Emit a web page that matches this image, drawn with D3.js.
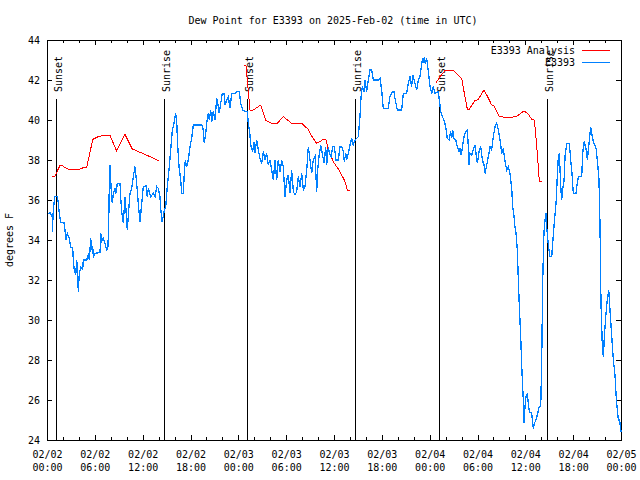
<!DOCTYPE html>
<html>
<head>
<meta charset="utf-8">
<script src="https://cdn.jsdelivr.net/npm/d3@7"></script>
<style>
  body { margin: 0; background: #fff; }
  text { font-family: "DejaVu Sans Mono", monospace; font-size: 10px; fill: #000; }
</style>
</head>
<body>
<div id="chart"></div>
<script>
/* CONSTANTS AND DATA */
const width = 640, height = 480,
  margin = { top: 40, right: 19, bottom: 40, left: 47 };

const title = "Dew Point for E3393 on 2025-Feb-02 (time in UTC)";
const yLabel = "degrees F";
const seriesNames = ["E3393 Analysis", "E3393"];
const seriesColors = ["#ff0000", "#0080ff"];
const startTime = new Date("2025-02-02T00:00:00Z");
const endTime = new Date("2025-02-05T00:00:00Z");
const yTicks = [24, 26, 28, 30, 32, 34, 36, 38, 40, 42, 44];

// sunset / sunrise, hours after 02/02 00:00 UTC
const sunHours = [1.17, 14.71, 25.13, 38.67, 49.21, 62.76];
const sunLabels = ["Sunset", "Sunrise", "Sunset", "Sunrise", "Sunset", "Sunrise"];

// analysis: [hours after start, deg F], null = gap
const analysis = [
  [0.66, 37.2], [1.00, 37.2], [1.63, 37.73], [1.84, 37.73], [2.60, 37.55], [4.14, 37.55],
  [4.77, 37.65], [4.98, 37.65], [5.39, 38.37], [5.73, 39.03], [6.44, 39.17], [7.06, 39.22],
  [7.90, 39.23], [8.74, 38.45], [9.78, 39.28], [10.70, 38.55], [11.45, 38.42], [12.29, 38.28],
  [13.13, 38.13], [13.76, 38.0], [14.05, 38.0],
  [19.0, null],
  [24.71, 42.75], [24.96, 42.7], [25.46, 40.5], [25.88, 40.5], [26.81, 40.75], [27.47, 39.97],
  [28.19, 39.83], [28.81, 39.8], [29.64, 40.17], [30.27, 39.97], [30.70, 39.83], [31.95, 39.83],
  [32.78, 39.53], [33.20, 39.2], [33.83, 38.83], [34.66, 39.03], [35.00, 39.0], [35.29, 38.5],
  [35.91, 37.92], [36.75, 37.42], [37.38, 36.92], [37.67, 36.5], [38.01, 36.5],
  [43.0, null],
  [48.76, 41.83], [49.30, 42.17], [49.92, 42.47], [50.97, 42.47], [51.72, 42.17], [52.02, 42.08],
  [52.31, 41.42], [52.72, 40.55], [52.97, 40.55], [53.69, 40.97], [54.10, 41.03], [54.81, 41.5],
  [55.16, 41.25], [55.78, 40.75], [56.07, 40.7], [56.70, 40.2], [57.45, 40.13], [58.29, 40.13],
  [58.99, 40.2], [59.83, 40.45], [60.37, 40.3], [60.80, 40.03], [61.09, 40.0], [61.21, 39.67],
  [61.43, 38.67], [61.63, 37.67], [61.75, 36.92], [62.05, 36.92]
];

// observations: [hours after start, deg F]
const observed = [
  [0.16, 35.33], [0.38, 35.37], [0.66, 35.17], [0.67, 34.42], [0.79, 35.5], [0.88, 35.83],
  [1.00, 36.17], [1.29, 36.17], [1.42, 35.83], [1.54, 35.33], [1.72, 34.87], [2.13, 34.87],
  [2.26, 34.5], [2.38, 34.0], [2.55, 34.33], [2.80, 34.08], [2.97, 33.63], [3.22, 33.63],
  [3.30, 33.0], [3.42, 32.5], [3.60, 32.25], [3.73, 33.0], [3.80, 32.5], [3.93, 31.42],
  [4.05, 32.33], [4.23, 32.63], [4.48, 32.53], [4.55, 33.0], [4.98, 33.0], [5.18, 33.25],
  [5.31, 33.0], [5.48, 34.08], [5.61, 33.5], [5.73, 33.7], [5.81, 33.17], [6.02, 33.33],
  [6.65, 33.37], [6.74, 34.33], [6.86, 33.92], [7.06, 34.08], [7.28, 33.83], [7.49, 33.47],
  [7.65, 33.7], [7.74, 34.83], [7.81, 36.67], [7.90, 37.75], [8.03, 36.67], [8.19, 35.83],
  [8.32, 36.33], [8.53, 36.58], [8.66, 36.33], [8.82, 36.83], [9.16, 36.83], [9.24, 36.17],
  [9.37, 35.42], [9.57, 34.83], [9.78, 36.17], [9.91, 35.5], [10.07, 34.5], [10.25, 35.5],
  [10.41, 36.33], [10.62, 36.58], [10.83, 37.17], [11.04, 37.67], [11.25, 36.83], [11.45, 35.83],
  [11.67, 34.92], [11.88, 35.83], [12.08, 36.67], [12.42, 36.7], [12.58, 36.17], [12.71, 36.58],
  [13.01, 36.17], [13.33, 36.33], [13.55, 36.17], [13.76, 36.67], [13.96, 36.58], [14.17, 36.17],
  [14.30, 35.42], [14.43, 34.92], [14.59, 35.17], [14.71, 35.5], [14.89, 35.67], [15.09, 36.67],
  [15.34, 37.67], [15.55, 38.67], [15.72, 39.5], [15.93, 39.83], [16.14, 40.33], [16.27, 39.92],
  [16.40, 38.67], [16.56, 37.67], [16.77, 37.0], [16.90, 36.33], [17.10, 36.33], [17.22, 37.33],
  [17.35, 38.0], [17.52, 37.67], [17.72, 38.0], [17.94, 38.67], [18.15, 39.08], [18.35, 39.75],
  [19.41, 39.75], [19.61, 39.5], [19.73, 38.83], [19.91, 39.33], [20.03, 39.83], [20.23, 40.33],
  [20.36, 40.0], [20.53, 40.5], [20.66, 39.92], [20.86, 40.42], [21.07, 40.0], [21.29, 41.08],
  [21.49, 40.67], [21.61, 40.33], [21.79, 40.83], [21.99, 41.33], [22.20, 41.33], [22.33, 40.75],
  [22.54, 41.0], [22.74, 41.17], [22.96, 40.58], [23.17, 41.33], [23.58, 41.33], [23.80, 41.42],
  [24.12, 41.42], [24.30, 40.83], [24.55, 40.5], [24.96, 40.42], [25.13, 40.42], [25.25, 39.83],
  [25.46, 39.25], [25.55, 38.75], [25.80, 38.42], [25.97, 38.92], [26.09, 38.33], [26.30, 39.0],
  [26.51, 38.5], [26.72, 38.08], [26.93, 37.83], [27.13, 38.42], [27.35, 38.0], [27.56, 38.33],
  [27.76, 37.75], [27.97, 38.0], [28.18, 37.5], [28.39, 37.0], [28.60, 38.0], [28.81, 37.0],
  [29.01, 38.0], [29.23, 37.42], [29.44, 38.0], [29.64, 37.67], [29.85, 36.17], [30.07, 37.0],
  [30.27, 37.25], [30.48, 36.33], [30.69, 37.5], [30.90, 36.42], [31.11, 36.25], [31.32, 36.42],
  [31.52, 37.17], [31.74, 36.67], [31.95, 37.33], [32.15, 36.5], [32.36, 36.67], [32.58, 37.5],
  [32.78, 38.67], [32.99, 38.0], [33.20, 37.33], [33.40, 38.0], [33.62, 38.17], [33.83, 36.42],
  [33.95, 37.5], [34.12, 38.17], [34.33, 38.75], [34.53, 38.33], [34.75, 37.83], [34.96, 38.67],
  [35.08, 37.75], [35.29, 38.67], [35.42, 38.33], [35.63, 38.17], [35.84, 38.67], [36.04, 38.67],
  [36.25, 38.0], [36.54, 38.0], [36.75, 38.67], [36.97, 38.67], [37.17, 38.42], [37.29, 37.92],
  [37.47, 38.33], [37.59, 38.0], [37.79, 38.33], [38.01, 38.75], [38.22, 39.08], [38.42, 38.75],
  [38.64, 39.0], [38.85, 39.08], [39.05, 39.17], [39.26, 40.17], [39.39, 41.17], [39.55, 41.67],
  [39.76, 41.42], [39.89, 42.0], [40.10, 41.42], [40.30, 42.0], [40.52, 42.5], [40.73, 42.5],
  [40.93, 42.0], [41.56, 42.0], [41.77, 42.08], [41.98, 41.5], [42.18, 40.58], [42.81, 40.58],
  [43.02, 41.17], [43.31, 41.42], [43.52, 41.42], [43.65, 41.08], [43.78, 40.83], [43.94, 40.5],
  [44.49, 40.5], [44.62, 41.0], [44.69, 41.33], [45.12, 41.33], [45.32, 41.83], [45.53, 42.17],
  [45.74, 41.67], [45.87, 42.25], [46.16, 41.83], [46.37, 41.5], [46.57, 42.0], [46.79, 42.17],
  [47.00, 42.83], [47.13, 43.08], [47.20, 42.83], [47.33, 43.17], [47.45, 42.83], [47.63, 43.08],
  [47.83, 42.42], [48.04, 41.67], [48.25, 41.33], [48.46, 41.67], [48.67, 41.33], [49.09, 41.42],
  [49.21, 41.0], [49.39, 40.42], [49.59, 40.17], [49.80, 40.0], [50.05, 39.58], [50.21, 39.08],
  [50.43, 39.0], [50.64, 39.42], [50.76, 39.08], [50.89, 39.5], [51.05, 39.08], [51.27, 39.0],
  [51.47, 38.67], [51.68, 38.42], [51.81, 38.58], [51.93, 38.25], [52.09, 38.58], [52.31, 39.17],
  [52.52, 39.42], [52.72, 39.5], [52.85, 38.67], [52.93, 37.75], [53.06, 38.33], [53.27, 38.25],
  [53.47, 38.5], [53.69, 38.75], [53.81, 38.33], [53.98, 37.83], [54.23, 38.5], [54.40, 38.67],
  [54.61, 38.0], [54.82, 37.75], [54.94, 37.33], [55.16, 37.75], [55.36, 38.17], [55.57, 38.67],
  [55.78, 38.5], [55.98, 39.17], [56.20, 39.67], [56.41, 39.83], [56.61, 39.5], [56.83, 39.0],
  [57.04, 38.33], [57.24, 38.58], [57.45, 37.92], [57.66, 37.5], [57.87, 37.67], [58.08, 37.33],
  [58.29, 36.58], [58.41, 35.67], [58.58, 35.17], [58.70, 34.67], [58.83, 34.33], [59.00, 33.5],
  [59.12, 32.0], [59.25, 30.67], [59.42, 29.17], [59.55, 27.67], [59.67, 26.58], [59.75, 26.0],
  [59.83, 24.83], [59.96, 25.67], [60.08, 26.17], [60.25, 26.33], [60.37, 25.83], [60.50, 25.42],
  [60.80, 25.33], [61.00, 24.58], [61.13, 24.83], [61.34, 25.0], [61.50, 25.25], [61.75, 25.67],
  [61.93, 25.67], [62.05, 27.83], [62.18, 32.0], [62.34, 34.42], [62.47, 35.0], [62.59, 35.33],
  [62.68, 34.67], [62.80, 34.08], [62.97, 33.5], [63.09, 33.17], [63.31, 33.17], [63.43, 33.83],
  [63.59, 34.67], [63.85, 35.83], [64.01, 37.17], [64.14, 38.17], [64.26, 38.33], [64.44, 36.67],
  [64.56, 36.0], [64.69, 36.58], [64.85, 36.92], [64.98, 38.17], [65.19, 38.83], [65.52, 38.83],
  [65.69, 38.0], [65.82, 37.5], [66.02, 36.33], [66.36, 36.33], [66.44, 36.67], [66.65, 37.17],
  [67.07, 37.17], [67.20, 38.33], [67.36, 38.92], [67.61, 38.58], [67.78, 38.0], [67.90, 38.5],
  [68.03, 39.0], [68.20, 39.67], [68.33, 39.33], [68.53, 38.92], [68.87, 38.58], [69.03, 38.0],
  [69.24, 37.0], [69.37, 34.67], [69.49, 30.83], [69.66, 28.67], [69.79, 28.17], [69.91, 29.17],
  [70.12, 30.33], [70.28, 31.0], [70.46, 31.5], [70.62, 30.5], [70.84, 29.17], [71.04, 28.0],
  [71.25, 27.25], [71.42, 26.0], [71.67, 25.0], [71.83, 25.0], [72.0, 24.42]
];

const toTime = h => new Date(startTime.getTime() + h * 3600e3);

/* SCALES */
const xScale = d3.scaleUtc()
  .domain([startTime, endTime])
  .range([margin.left, width - margin.right]);

const yScale = d3.scaleLinear()
  .domain([24, 44])
  .range([height - margin.bottom, margin.top]);

const svg = d3.select("#chart")
  .append("svg")
  .attr("width", width)
  .attr("height", height);

/* AXES */
const minorHours = d3.utcHour.every(2).range(startTime, d3.utcHour.offset(endTime, 1));
const majorHours = d3.utcHour.every(6).range(startTime, d3.utcHour.offset(endTime, 1));

// minor ticks, bottom and top, pointing inward
svg.append("g")
  .attr("transform", `translate(0, ${height - margin.bottom})`)
  .call(d3.axisBottom(xScale).tickValues(minorHours).tickSizeInner(-3).tickSizeOuter(0).tickFormat(""))
  .call(g => g.select(".domain").remove());
svg.append("g")
  .attr("transform", `translate(0, ${margin.top})`)
  .call(d3.axisTop(xScale).tickValues(minorHours).tickSizeInner(-3).tickSizeOuter(0).tickFormat(""))
  .call(g => g.select(".domain").remove());

// major ticks with 2-line labels
const fmtDay = d3.utcFormat("%m/%d"), fmtTime = d3.utcFormat("%H:%M");
svg.append("g")
  .attr("class", "xAxis")
  .attr("transform", `translate(0, ${height - margin.bottom})`)
  .call(d3.axisBottom(xScale).tickValues(majorHours).tickSizeInner(-5).tickSizeOuter(0))
  .call(g => g.select(".domain").remove())
  .call(g => g.selectAll(".tick text").each(function (d) {
    const t = d3.select(this).text(null).attr("dy", null).attr("y", null);
    t.append("tspan").attr("x", 0).attr("y", 17.5).text(fmtDay(d));
    t.append("tspan").attr("x", 0).attr("y", 30.5).text(fmtTime(d));
  }));
svg.append("g")
  .attr("transform", `translate(0, ${margin.top})`)
  .call(d3.axisTop(xScale).tickValues(majorHours).tickSizeInner(-5).tickSizeOuter(0).tickFormat(""))
  .call(g => g.select(".domain").remove());

svg.append("g")
  .attr("class", "yAxis")
  .attr("transform", `translate(${margin.left}, 0)`)
  .call(d3.axisLeft(yScale).tickValues(yTicks).tickSizeInner(-5).tickSizeOuter(0).tickPadding(7))
  .call(g => g.select(".domain").remove());
svg.append("g")
  .attr("transform", `translate(${width - margin.right}, 0)`)
  .call(d3.axisRight(yScale).tickValues(yTicks).tickSizeInner(-5).tickSizeOuter(0).tickFormat(""))
  .call(g => g.select(".domain").remove());

svg.selectAll(".tick line").attr("stroke", "#000").attr("shape-rendering", "crispEdges");
svg.selectAll(".tick text").attr("font-family", null).attr("font-size", null);

// border
svg.append("rect")
  .attr("x", margin.left + 0.5)
  .attr("y", margin.top + 0.5)
  .attr("width", width - margin.left - margin.right)
  .attr("height", height - margin.top - margin.bottom)
  .attr("fill", "none")
  .attr("stroke", "#000")
  .attr("shape-rendering", "crispEdges");

/* SUNRISE / SUNSET MARKERS */
const sun = svg.selectAll(".sun")
  .data(sunHours.map((h, i) => ({ time: toTime(h), label: sunLabels[i] })))
  .join("g")
  .attr("class", "sun");
sun.append("line")
  .attr("x1", d => Math.round(xScale(d.time)) + 0.5)
  .attr("x2", d => Math.round(xScale(d.time)) + 0.5)
  .attr("y1", 99)
  .attr("y2", yScale(24))
  .attr("stroke", "#000")
  .attr("shape-rendering", "crispEdges");
sun.append("text")
  .attr("transform", d => `translate(${Math.round(xScale(d.time)) + 6}, 92) rotate(-90)`)
  .text(d => d.label);

/* LINES */
// gnuplot-style aliased 1px lines
const line = d3.line()
  .defined(d => d[1] != null)
  .x(d => xScale(toTime(d[0])))
  .y(d => yScale(d[1]));

svg.append("path")
  .datum(analysis)
  .attr("d", line)
  .attr("fill", "none")
  .attr("stroke", seriesColors[0])
  .attr("stroke-width", 1)
  .attr("shape-rendering", "crispEdges");

svg.append("path")
  .datum(observed)
  .attr("d", line)
  .attr("fill", "none")
  .attr("stroke", seriesColors[1])
  .attr("stroke-width", 1.3)
  .attr("shape-rendering", "crispEdges");

/* LEGEND */
const legend = svg.selectAll(".legend")
  .data(seriesNames)
  .join("g")
  .attr("class", "legend")
  .attr("transform", (d, i) => `translate(0, ${50 + i * 12})`);
legend.append("text")
  .attr("x", 575)
  .attr("y", 0)
  .attr("dy", "0.35em")
  .attr("text-anchor", "end")
  .text(d => d);
legend.append("line")
  .attr("x1", 582).attr("x2", 610)
  .attr("y1", 0.5).attr("y2", 0.5)
  .attr("stroke", (d, i) => seriesColors[i])
  .attr("shape-rendering", "crispEdges");

/* TITLE AND LABELS */
svg.append("text")
  .attr("x", 333)
  .attr("y", 24)
  .attr("text-anchor", "middle")
  .text(title);

svg.append("text")
  .attr("transform", "translate(13, 240) rotate(-90)")
  .attr("text-anchor", "middle")
  .text(yLabel);
</script>
</body>
</html>
